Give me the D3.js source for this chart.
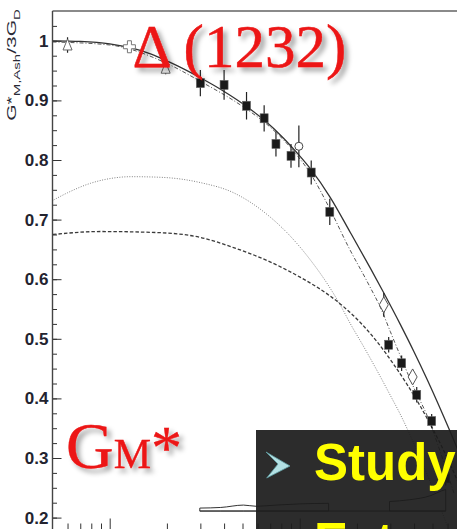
<!DOCTYPE html>
<html>
<head>
<meta charset="utf-8">
<script src="https://cdn.jsdelivr.net/npm/d3@7"></script>
<style>
  body { margin: 0; background: #fff; }
  svg { display: block; }
</style>
</head>
<body>
<svg id="chart" width="457" height="529"></svg>
<script>
// model curves, Q2 in GeV^2 vs G*M,Ash / 3GD
const solidQ2 = [0.05, 0.07, 0.1, 0.13, 0.164, 0.204, 0.3, 0.4, 0.53, 0.65, 0.82, 0.98, 1.14, 1.45, 1.85, 2.35, 2.75, 3.4, 4.0, 4.7, 6.2, 8.0];
const solidVal = [1.0, 0.999, 0.995, 0.988, 0.978, 0.965, 0.938, 0.915, 0.889, 0.867, 0.837, 0.81, 0.785, 0.737, 0.678, 0.619, 0.579, 0.523, 0.478, 0.431, 0.344, 0.258];

const dashDotQ2 = [0.05, 0.1, 0.2, 0.3, 0.5, 0.7, 0.9, 1.14, 1.42, 1.8, 2.3, 2.7, 3.0, 3.4, 4.0, 4.7, 5.5, 6.5];
const dashDotVal = [0.998, 0.993, 0.962, 0.932, 0.89, 0.855, 0.82, 0.777, 0.722, 0.655, 0.592, 0.548, 0.512, 0.47, 0.417, 0.37, 0.31, 0.24];

const dashedQ2 = [0.0503, 0.0897, 0.1855, 0.301, 0.449, 0.677, 1.01, 1.40, 1.70, 2.09, 2.57, 3.11, 3.70, 4.88, 6.0, 7.0];
const dashedVal = [0.675, 0.680, 0.678, 0.670, 0.653, 0.631, 0.603, 0.575, 0.554, 0.527, 0.494, 0.458, 0.422, 0.356, 0.299, 0.251];

const dottedQ2 = [0.0507, 0.06, 0.0794, 0.101, 0.13, 0.185, 0.301, 0.449, 0.677, 0.894, 1.14, 1.40, 1.64, 1.85, 2.17, 2.57, 3.0, 3.4, 3.98, 4.89, 6.0];
const dottedVal = [0.733, 0.745, 0.761, 0.769, 0.772, 0.771, 0.762, 0.745, 0.708, 0.672, 0.632, 0.592, 0.556, 0.525, 0.487, 0.445, 0.405, 0.372, 0.325, 0.258, 0.185];

// systematic error bands
const bandBase = 0.211;
const bandAQ2 = [0.298, 0.384, 0.506, 0.59, 0.75, 1.0, 1.42];
const bandATop = [0.216, 0.217, 0.221, 0.219, 0.221, 0.223, 0.224];
const bandBQ2 = [2.97, 3.8, 4.9, 5.6, 5.87];
const bandBTop = [0.227, 0.230, 0.237, 0.245, 0.247];

// data points
const sqQ2 = [0.30, 0.40, 0.525, 0.65, 0.75, 0.90, 1.15, 1.44, 2.94, 3.44, 4.13, 4.95, 5.87];
const sqVal = [0.929, 0.926, 0.891, 0.870, 0.827, 0.807, 0.779, 0.713, 0.490, 0.459, 0.406, 0.362, 0.266];
const sqErr = [0.022, 0.025, 0.023, 0.022, 0.021, 0.020, 0.020, 0.022, 0.013, 0.013, 0.013, 0.012, 0.012];
const triQ2 = [0.06, 0.197];
const triVal = [0.993, 0.954];
const triErr = [0.013, 0.010];
const crossQ2 = [0.127];
const crossVal = [0.99];
const circQ2 = [0.99];
const circVal = [0.823];
const circErr = [0.035];
const diaQ2 = [2.77, 3.93];
const diaVal = [0.557, 0.436];
const diaErr = [0.02, 0.012];

const yTickVals = [0.2, 0.3, 0.4, 0.5, 0.6, 0.7, 0.8, 0.9, 1.0];
const yTickLabels = ['0.2', '0.3', '0.4', '0.5', '0.6', '0.7', '0.8', '0.9', '1'];
const xMajor = [0.1, 1, 10];
const xMinor = [0.06, 0.07, 0.08, 0.09, 0.2, 0.3, 0.4, 0.5, 0.6, 0.7, 0.8, 0.9, 2, 3, 4, 5, 6, 7, 8, 9];

const svg = d3.select('#chart');
const marginLeft = 52.5, frameTop = 11, frameBottom = 532.5;

const x = d3.scaleLog().domain([0.05, 10]).range([marginLeft, marginLeft + 190 * Math.log10(200)]);
const y = d3.scaleLinear().domain([0.175, 1.05]).range([frameBottom, frameTop]);

svg.append('defs').html(`
  <clipPath id="plot"><rect x="${marginLeft}" y="${frameTop}" width="${x(10) - marginLeft}" height="${frameBottom - frameTop}"/></clipPath>
  <filter id="shadow" x="-10%" y="-10%" width="130%" height="140%">
    <feDropShadow dx="4" dy="4" stdDeviation="2.5" flood-color="#000" flood-opacity="0.35"/>
  </filter>`);

// frame
svg.append('line')
	.attr('x1', marginLeft).attr('x2', 457).attr('y1', frameTop).attr('y2', frameTop)
	.attr('stroke', '#8a8a8a').attr('stroke-width', 2);

// y axis
const yMinor = d3.range(0.2, 1.04, 0.025);
svg.append('g')
	.attr('transform', `translate(${marginLeft},0)`)
	.call(d3.axisLeft(y).tickValues(yMinor).tickSize(-4.5).tickFormat(''))
	.call((g) => g.select('.domain').remove())
	.call((g) => g.selectAll('line').attr('stroke', '#333'));

svg.append('g')
	.attr('transform', `translate(${marginLeft},0)`)
	.call(d3.axisLeft(y).tickValues(yTickVals).tickSize(-9).tickPadding(4)
		.tickFormat((d, i) => yTickLabels[i]))
	.call((g) => g.select('.domain').remove())
	.call((g) => g.selectAll('line').attr('stroke', '#333'))
	.call((g) => g.selectAll('text')
		.attr('font-family', '"Liberation Sans Narrow", "Liberation Sans", Arial, sans-serif')
		.attr('font-weight', 'bold')
		.attr('font-size', 17)
		.attr('fill', '#23232f'));

svg.append('line')
	.attr('x1', marginLeft).attr('x2', marginLeft).attr('y1', frameTop).attr('y2', 529)
	.attr('stroke', '#444').attr('stroke-width', 1.4);

// x axis ticks (axis line itself sits just below the picture)
svg.append('g')
	.attr('transform', `translate(0,${frameBottom})`)
	.call(d3.axisBottom(x).tickValues(xMinor).tickSize(-9).tickFormat(''))
	.call((g) => g.select('.domain').remove())
	.call((g) => g.selectAll('line').attr('stroke', '#333'));
svg.append('g')
	.attr('transform', `translate(0,${frameBottom})`)
	.call(d3.axisBottom(x).tickValues(xMajor).tickSize(-14).tickFormat(''))
	.call((g) => g.select('.domain').remove())
	.call((g) => g.selectAll('line').attr('stroke', '#333'));

const plot = svg.append('g').attr('clip-path', 'url(#plot)');

const line = d3.line()
	.x((d) => x(d[0]))
	.y((d) => y(d[1]))
	.curve(d3.curveMonotoneX);

const curves = [
	{ q: dottedQ2, v: dottedVal, color: '#808080', width: 1, dash: '1,1.5' },
	{ q: dashedQ2, v: dashedVal, color: '#3a3a3a', width: 1.3, dash: '3.5,2' },
	{ q: dashDotQ2, v: dashDotVal, color: '#555', width: 1, dash: '4,2,1,2' },
	{ q: solidQ2, v: solidVal, color: '#333', width: 1.3, dash: null },
];
curves.forEach((c) => {
	plot.append('path')
		.datum(c.q.map((q, i) => [q, c.v[i]]))
		.attr('d', line)
		.attr('fill', 'none')
		.attr('stroke', c.color)
		.attr('stroke-width', c.width)
		.attr('stroke-dasharray', c.dash);
});

// error bands
const area = d3.area()
	.x((d) => x(d[0]))
	.y0(y(bandBase))
	.y1((d) => y(d[1]))
	.curve(d3.curveMonotoneX);
[[bandAQ2, bandATop], [bandBQ2, bandBTop]].forEach(([q, t]) => {
	const pts = q.map((d, i) => [d, t[i]]);
	plot.append('path')
		.datum(pts)
		.attr('d', area)
		.attr('fill', '#fff')
		.attr('stroke', '#333')
		.attr('stroke-width', 1);
});
plot.append('line')
	.attr('x1', x(bandAQ2[0])).attr('x2', x(bandBQ2[bandBQ2.length - 1]))
	.attr('y1', y(bandBase)).attr('y2', y(bandBase))
	.attr('stroke', '#333').attr('stroke-width', 1);

// error bars
function errBars(q, v, e) {
	plot.append('g')
		.selectAll('line')
		.data(q)
		.join('line')
		.attr('x1', (d) => x(d)).attr('x2', (d) => x(d))
		.attr('y1', (d, i) => y(v[i] - e[i]))
		.attr('y2', (d, i) => y(v[i] + e[i]))
		.attr('stroke', '#222')
		.attr('stroke-width', 1.2);
}
errBars(sqQ2, sqVal, sqErr);
errBars(triQ2, triVal, triErr);
errBars(circQ2, circVal, circErr);
errBars(diaQ2, diaVal, diaErr);

// markers
plot.append('g')
	.selectAll('rect')
	.data(sqQ2)
	.join('rect')
	.attr('x', (d) => x(d) - 4)
	.attr('y', (d, i) => y(sqVal[i]) - 4.5)
	.attr('width', 8).attr('height', 9)
	.attr('fill', '#1a1a1a')
	.attr('stroke', '#666').attr('stroke-width', 0.6);

plot.append('g')
	.selectAll('path')
	.data(triQ2)
	.join('path')
	.attr('transform', (d, i) => `translate(${x(d)},${y(triVal[i])})`)
	.attr('d', 'M0,-6L4.5,5L-4.5,5Z')
	.attr('fill', '#fff').attr('stroke', '#666').attr('stroke-width', 1);

plot.append('g')
	.selectAll('path')
	.data(crossQ2)
	.join('path')
	.attr('transform', (d, i) => `translate(${x(d)},${y(crossVal[i])})`)
	.attr('d', 'M-2,-6H2V-2H6V2H2V6H-2V2H-6V-2H-2Z')
	.attr('fill', '#fff').attr('stroke', '#777').attr('stroke-width', 1);

plot.append('g')
	.selectAll('circle')
	.data(circQ2)
	.join('circle')
	.attr('cx', (d) => x(d))
	.attr('cy', (d, i) => y(circVal[i]))
	.attr('r', 4)
	.attr('fill', '#fff').attr('stroke', '#444').attr('stroke-width', 1);

plot.append('g')
	.selectAll('path')
	.data(diaQ2)
	.join('path')
	.attr('transform', (d, i) => `translate(${x(d)},${y(diaVal[i])})`)
	.attr('d', 'M0,-8L4.5,0L0,8L-4.5,0Z')
	.attr('fill', '#fff').attr('stroke', '#555').attr('stroke-width', 1);

// y axis title
const yt = svg.append('text')
	.attr('transform', 'translate(16,65) rotate(-90) scale(1,0.62)')
	.attr('text-anchor', 'middle')
	.attr('font-family', '"Liberation Sans", Arial, sans-serif')
	.attr('font-size', 21)
	.attr('fill', '#2a2a36');
yt.append('tspan').text('G*');
yt.append('tspan').attr('dy', 6).attr('font-size', 15).text('M,Ash');
yt.append('tspan').attr('dy', -6).text('/3G');
yt.append('tspan').attr('dy', 6).attr('font-size', 15).text('D');

// red overlay titles
svg.append('text')
	.attr('x', 132.5).attr('y', 67)
	.attr('font-family', '"Liberation Serif", "Times New Roman", serif')
	.attr('font-size', 61)
	.attr('fill', '#ec1515')
	.attr('stroke', '#ec1515').attr('stroke-width', 0.5)
	.attr('filter', 'url(#shadow)')
	.text('Δ (1232)');

const gm = svg.append('text')
	.attr('x', 66).attr('y', 468)
	.attr('font-family', '"Liberation Serif", "Times New Roman", serif')
	.attr('fill', '#ec1515')
	.attr('stroke', '#ec1515').attr('stroke-width', 0.4)
	.attr('filter', 'url(#shadow)');
gm.append('tspan').attr('font-size', 66).text('G');
gm.append('tspan').attr('font-size', 42).text('M');
gm.append('tspan').attr('font-size', 62).text('*');

// dark slide box
svg.append('rect')
	.attr('x', 256).attr('y', 430).attr('width', 201).attr('height', 99)
	.attr('fill', '#1c1c1c').attr('fill-opacity', 0.93);

svg.append('path')
	.attr('d', 'M266,452L290,466L266.7,478L278,464Z')
	.attr('fill', '#b3e1e4').attr('stroke', '#5f9ea3').attr('stroke-width', 0.8);

svg.append('text')
	.attr('x', 314).attr('y', 480)
	.attr('font-family', '"Liberation Sans", Arial, sans-serif')
	.attr('font-weight', 'bold')
	.attr('font-size', 51)
	.attr('fill', '#ffff00')
	.text('Study');

svg.append('text')
	.attr('x', 314).attr('y', 559)
	.attr('font-family', '"Liberation Sans", Arial, sans-serif')
	.attr('font-weight', 'bold')
	.attr('font-size', 51)
	.attr('fill', '#ffff00')
	.text('Extract');
</script>
</body>
</html>
